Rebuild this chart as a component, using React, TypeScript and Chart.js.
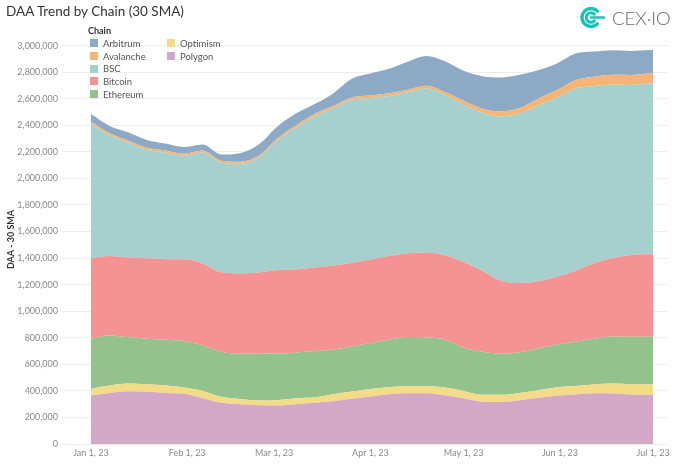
import React, { useEffect, useRef } from "react";
import { Chart, registerables } from "chart.js";

Chart.register(...registerables);

// Day offsets from Jan 1, 2023
const days = [0, 6, 12, 18, 24, 30, 36, 42, 48, 54, 60, 66, 72, 78, 84, 90, 96, 102, 108, 114, 120, 126, 132, 138, 144, 150, 156, 162, 168, 174, 180, 181];

// Values in thousands of daily active addresses (30-day SMA)
const polygon = [365, 385, 398, 394, 385, 378, 345, 310, 300, 292, 289, 299, 310, 322, 340, 357, 375, 382, 382, 366, 345, 318, 316, 330, 348, 363, 373, 382, 380, 373, 369, 369];
const optimism = [49, 55, 57, 56, 55, 47, 55, 45, 38, 36, 41, 45, 42, 53, 55, 57, 53, 55, 55, 59, 55, 52, 54, 55, 57, 65, 64, 66, 75, 77, 80, 80];
const ethereum = [379, 378, 350, 343, 345, 350, 342, 340, 342, 352, 353, 344, 348, 337, 340, 346, 357, 368, 366, 360, 325, 325, 310, 305, 315, 322, 333, 345, 355, 358, 359, 359];
const bitcoin = [605, 597, 600, 605, 606, 616, 618, 598, 605, 612, 627, 627, 630, 633, 630, 630, 631, 631, 638, 638, 645, 610, 550, 522, 505, 510, 535, 569, 590, 616, 620, 620];
const bsc = [1014, 910, 865, 817, 804, 780, 835, 825, 825, 863, 973, 1066, 1138, 1183, 1228, 1215, 1205, 1212, 1237, 1205, 1185, 1190, 1237, 1276, 1325, 1347, 1372, 1333, 1305, 1280, 1287, 1287];
const avalanche = [15, 15, 15, 15, 15, 15, 15, 15, 15, 15, 17, 17, 17, 17, 17, 20, 20, 20, 20, 22, 30, 30, 38, 42, 50, 58, 63, 70, 75, 75, 75, 75];
const arbitrum = [58, 55, 62, 60, 52, 50, 45, 47, 65, 85, 90, 90, 75, 95, 140, 165, 184, 210, 224, 232, 225, 245, 255, 250, 215, 200, 200, 190, 185, 181, 177, 177];

const tickDays = [0, 31, 59, 90, 120, 151, 181];
const tickLabels = ["Jan 1, 23", "Feb 1, 23", "Mar 1, 23", "Apr 1, 23", "May 1, 23", "Jun 1, 23", "Jul 1, 23"];
const yTicks = [0, 200000, 400000, 600000, 800000, 1000000, 1200000, 1400000, 1600000, 1800000, 2000000, 2200000, 2400000, 2600000, 2800000, 3000000];

const legendNames = ["Arbitrum", "Avalanche", "BSC", "Bitcoin", "Ethereum", "Optimism", "Polygon"];
const colors: Record<string, string> = {
  Arbitrum: "#8caac6",
  Avalanche: "#f6b575",
  BSC: "#a6d0cd",
  Bitcoin: "#f49294",
  Ethereum: "#93c28c",
  Optimism: "#f3dc88",
  Polygon: "#d2a8c6",
};

// bottom-to-top stacking order
const stackNames = ["Polygon", "Optimism", "Ethereum", "Bitcoin", "BSC", "Avalanche", "Arbitrum"];
const stackValues = [polygon, optimism, ethereum, bitcoin, bsc, avalanche, arbitrum];

const FONT = "Lato, 'Noto Sans', sans-serif";

function Logo() {
  const c = "#19c2b5";
  const arc = (r: number) => {
    const cx = 11, cy = 10.5, k = 0.707;
    return `M ${cx + r * k} ${cy - r * k} A ${r} ${r} 0 1 0 ${cx + r * k} ${cy + r * k}`;
  };
  return (
    <div style={{ position: "absolute", left: 580, top: 7, display: "flex", alignItems: "center" }}>
      <svg width="27" height="22" viewBox="0 0 27 22">
        <path d={arc(9)} fill="none" stroke={c} strokeWidth={3.4} strokeLinecap="round" />
        <path d={arc(4.8)} fill="none" stroke={c} strokeWidth={3} strokeLinecap="round" />
        <line x1="11" y1="10.5" x2="24" y2="10.5" stroke={c} strokeWidth={2.6} strokeLinecap="round" />
      </svg>
      <span style={{ fontFamily: FONT, fontWeight: 300, fontSize: 18.5, color: "#666", marginLeft: 5 }}>
        CEX·IO
      </span>
    </div>
  );
}

function Legend() {
  const col1 = legendNames.slice(0, 5);
  const col2 = legendNames.slice(5);
  const item = (n: string) => (
    <div key={n} style={{ display: "flex", alignItems: "center", height: 12.7 }}>
      <div style={{ width: 8, height: 8, background: colors[n], marginRight: 5 }} />
      <span style={{ fontFamily: FONT, fontSize: 9.5, color: "#555" }}>{n}</span>
    </div>
  );
  return (
    <div style={{ position: "absolute", left: 88, top: 25 }}>
      <div style={{ fontFamily: FONT, fontSize: 9, fontWeight: 700, color: "#333", height: 12 }}>Chain</div>
      <div style={{ display: "flex", marginLeft: 2 }}>
        <div style={{ width: 77 }}>{col1.map(item)}</div>
        <div>{col2.map(item)}</div>
      </div>
    </div>
  );
}

export default function App() {
  const ref = useRef<HTMLCanvasElement>(null);

  useEffect(() => {
    document.body.style.margin = "0";
    const canvas = ref.current;
    if (!canvas) return;
    const datasets = stackNames.map((name, i) => ({
      label: name,
      data: days.map((d, j) => ({ x: d, y: stackValues[i][j] * 1000 })),
      backgroundColor: colors[name],
      borderColor: colors[name],
      borderWidth: 0,
      pointRadius: 0,
      fill: i === 0 ? "origin" : "-1",
      cubicInterpolationMode: "monotone" as const,
    }));

    const chart = new Chart(canvas, {
      type: "line",
      data: { datasets },
      options: {
        animation: false,
        responsive: false,
        maintainAspectRatio: false,
        layout: { padding: { top: 35, right: 12, left: 0, bottom: 0 } },
        plugins: { legend: { display: false }, tooltip: { enabled: false } },
        scales: {
          x: {
            type: "linear",
            min: -9.3,
            max: 185.8,
            grid: { display: false, drawTicks: false },
            border: { display: false },
            afterBuildTicks: (s: any) => {
              s.ticks = tickDays.map((v) => ({ value: v }));
            },
            afterFit: (s: any) => {
              s.height = 20;
            },
            ticks: {
              autoSkip: false,
              maxRotation: 0,
              padding: 4,
              color: "#8a8a8a",
              font: { family: FONT, size: 9 },
              callback: (_v: any, i: number) => tickLabels[i],
            },
          },
          y: {
            stacked: true,
            min: 0,
            max: 3080000,
            afterBuildTicks: (s: any) => {
              s.ticks = yTicks.map((v) => ({ value: v }));
            },
            afterFit: (s: any) => {
              s.width = 62;
            },
            grid: { color: "#eeeeee", drawTicks: false, lineWidth: 1 },
            border: { display: false },
            ticks: {
              padding: 4,
              color: "#8a8a8a",
              font: { family: FONT, size: 9 },
              callback: (v: any) => Number(v).toLocaleString("en-US"),
            },
            title: {
              display: true,
              text: "DAA - 30 SMA",
              color: "#333",
              font: { family: FONT, size: 9, weight: "bold" },
              padding: { top: 6, bottom: 0 },
            },
          },
        },
      },
    });
    return () => chart.destroy();
  }, []);

  return (
    <div style={{ position: "relative", width: 680, height: 464, background: "#fff", overflow: "hidden" }}>
      <canvas ref={ref} width={680} height={464} style={{ position: "absolute", left: 0, top: 0, width: 680, height: 464 }} />
      <div style={{ position: "absolute", left: 6, top: 3, fontFamily: FONT, fontSize: 13.5, lineHeight: "16px", color: "#333", whiteSpace: "nowrap" }}>
        DAA Trend by Chain (30 SMA)
      </div>
      <Legend />
      <Logo />
    </div>
  );
}
